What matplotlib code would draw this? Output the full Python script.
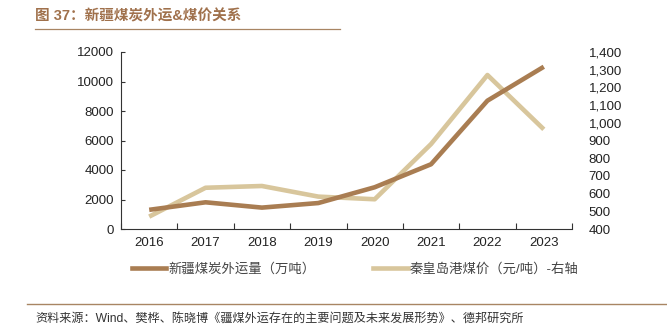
import matplotlib
matplotlib.use("Agg")
import matplotlib.pyplot as plt
from matplotlib.lines import Line2D

plt.rcParams['font.family'] = ['Liberation Sans', 'Noto Sans CJK SC', 'DejaVu Sans']

years = ["2016", "2017", "2018", "2019", "2020", "2021", "2022", "2023"]
shipments = [1300, 1810, 1450, 1760, 2830, 4390, 8700, 11000]
coal_price = [470, 633, 643, 583, 568, 880, 1270, 963]

left_ticks = [0, 2000, 4000, 6000, 8000, 10000, 12000]
right_ticks = [400, 500, 600, 700, 800, 900, 1000, 1100, 1200, 1300, 1400]

brown = "#a97d52"
beige = "#d8c69c"
title_color = "#a0714c"

fig = plt.figure(figsize=(6.67, 3.28), dpi=100)
W, H = 667, 328
ax_left, ax_right, ax_top, ax_bot = 121, 572, 52, 229
ax = fig.add_axes([ax_left / W, 1 - ax_bot / H, (ax_right - ax_left) / W, (ax_bot - ax_top) / H])
ax2 = ax.twinx()

x = list(range(len(years)))
ax.plot(x, shipments, color=brown, lw=3.3, solid_capstyle='butt', zorder=3)
ax2.plot(x, coal_price, color=beige, lw=3.3, solid_capstyle='butt', zorder=2)
ax.set_zorder(ax2.get_zorder() + 1)
ax.patch.set_visible(False)

ax.set_xlim(-0.5, len(years) - 0.5)
ax.set_ylim(0, 12000)
ax2.set_ylim(400, 1400)

ax.set_yticks(left_ticks)
ax.set_yticklabels([str(v) for v in left_ticks], fontsize=9.5, color="#222222")
ax2.set_yticks(right_ticks)
ax2.set_yticklabels([f"{v:,}" for v in right_ticks], fontsize=9.5, color="#222222")

ax.set_xticks([i + 0.5 for i in range(-1, len(years))], minor=False)
ax.set_xticklabels([""] * (len(years) + 1))
ax.set_xticks(x, minor=True)
ax.set_xticklabels(years, minor=True, fontsize=9.5, color="#222222")
ax.tick_params(axis='x', which='major', direction='in', length=4, width=0.8, color="#333333")
ax.tick_params(axis='x', which='minor', length=0, pad=6)
ax.tick_params(axis='y', direction='in', length=3, width=0.8, color="#333333", pad=5)
ax2.tick_params(axis='y', length=0, pad=12)

for s in ['top', 'right']:
    ax.spines[s].set_visible(False)
for s in ['top', 'right', 'left', 'bottom']:
    ax2.spines[s].set_visible(False)
ax.spines['left'].set_color("#333333")
ax.spines['bottom'].set_color("#333333")
ax.spines['left'].set_linewidth(0.8)
ax.spines['bottom'].set_linewidth(0.8)

# title
fig.text(35 / W, 1 - 16 / H, "图 37：新疆煤炭外运&煤价关系", fontsize=10.5, fontweight='bold',
         color=title_color, va='center', ha='left')
fig.add_artist(Line2D([35 / W, 340 / W], [1 - 29 / H, 1 - 29 / H], color="#a88563", lw=0.9))

# legend
handles = [Line2D([], [], color=brown, lw=3.3), Line2D([], [], color=beige, lw=3.3)]
labels = ["新疆煤炭外运量（万吨）", "秦皇岛港煤价（元/吨）-右轴"]
fig.legend(handles, labels, loc='center', bbox_to_anchor=(355 / W, 1 - 269 / H), ncol=2,
           frameon=False, fontsize=9.6, handlelength=2.6, handletextpad=0.15, columnspacing=4.3,
           labelcolor="#444444")

# source
fig.add_artist(Line2D([27 / W, 1.0], [1 - 304 / H, 1 - 304 / H], color="#a88563", lw=1.0))
fig.text(35 / W, 1 - 319 / H, "资料来源：Wind、樊桦、陈晓博《疆煤外运存在的主要问题及未来发展形势》、德邦研究所",
         fontsize=8.7, color="#333333", va='center', ha='left')

fig.savefig("out.png", dpi=100)
